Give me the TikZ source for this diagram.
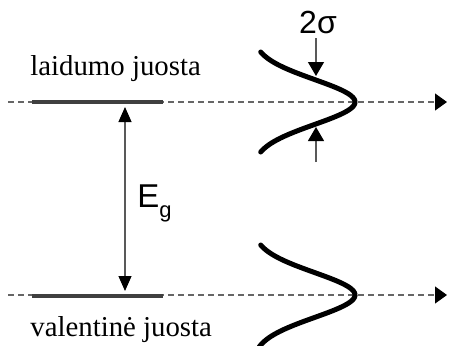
\documentclass[tikz,border=0pt]{standalone}
\usepackage{fontspec}
\setmainfont{Liberation Serif}
\newfontfamily\arialfont{Liberation Sans}
\usetikzlibrary{arrows.meta}

\begin{document}
\begin{tikzpicture}[x=0.5pt,y=-0.5pt,
    level/.style={gray!80!black, line width=0.6pt, dash pattern=on 3pt off 2pt,
      -{Triangle[length=6pt,width=8.5pt,black]}},
    band/.style={line width=2.2pt, black!75},
    gaparrow/.style={gray!70!black, line width=0.6pt,
      {Triangle[length=7.5pt,width=6.5pt,black]}-{Triangle[length=7.5pt,width=6.5pt,black]}},
    marker/.style={gray!70!black, line width=0.6pt, -{Triangle[length=7pt,width=8pt,black]}},
    dos/.style={line width=2.5pt, line cap=round, black}]
    \useasboundingbox (0,0) rectangle (451,345);
    \clip (0,0) rectangle (451,345);
    % levels
    \coordinate (cl) at (8,102);  \coordinate (cr) at (447,102);
    \coordinate (vl) at (8,295);  \coordinate (vr) at (447,295);
    \draw[level] (cl) -- (cr);
    \draw[level] (vl) -- (vr);
    % band edges
    \coordinate (c1) at (32,102); \coordinate (c2) at (163,102);
    \coordinate (v1) at (32,296); \coordinate (v2) at (163,296);
    \draw[band] (c1) -- (c2);
    \draw[band] (v1) -- (v2);
    % gap
    \coordinate (gtop) at (125,107); \coordinate (gbot) at (125,291);
    \draw[gaparrow] (gtop) -- (gbot);
    \node[anchor=base west, inner sep=0pt] (eg) at (137,207)
      {\arialfont\fontsize{16.5}{18}\selectfont E\raisebox{-5pt}{\fontsize{11}{12}\selectfont g}};
    % gaussians
    \draw[dos] plot[domain=-50:50, samples=80, smooth] ({252+103*exp(-(\x/22.5)^2/2)}, {102+\x});
    \draw[dos] plot[domain=-50:52, samples=80, smooth] ({252+103*exp(-(\x/22.5)^2/2)}, {295+\x});
    % 2 sigma
    \coordinate (s1) at (316,38);  \coordinate (s1e) at (316,76);
    \coordinate (s2) at (316,162); \coordinate (s2e) at (316,127);
    \draw[marker] (s1) -- (s1e);
    \draw[marker] (s2) -- (s2e);
    \node[anchor=base, inner sep=0pt] (sig) at (318,33)
      {\arialfont\fontsize{16}{18}\selectfont 2σ};
    % labels
    \node[anchor=base west, inner sep=0pt] (cb) at (30,75)
      {\fontsize{14.4}{16}\selectfont laidumo juosta};
    \node[anchor=base west, inner sep=0pt] (vb) at (30,336)
      {\fontsize{14.4}{16}\selectfont valentinė juosta};
\end{tikzpicture}
\end{document}
